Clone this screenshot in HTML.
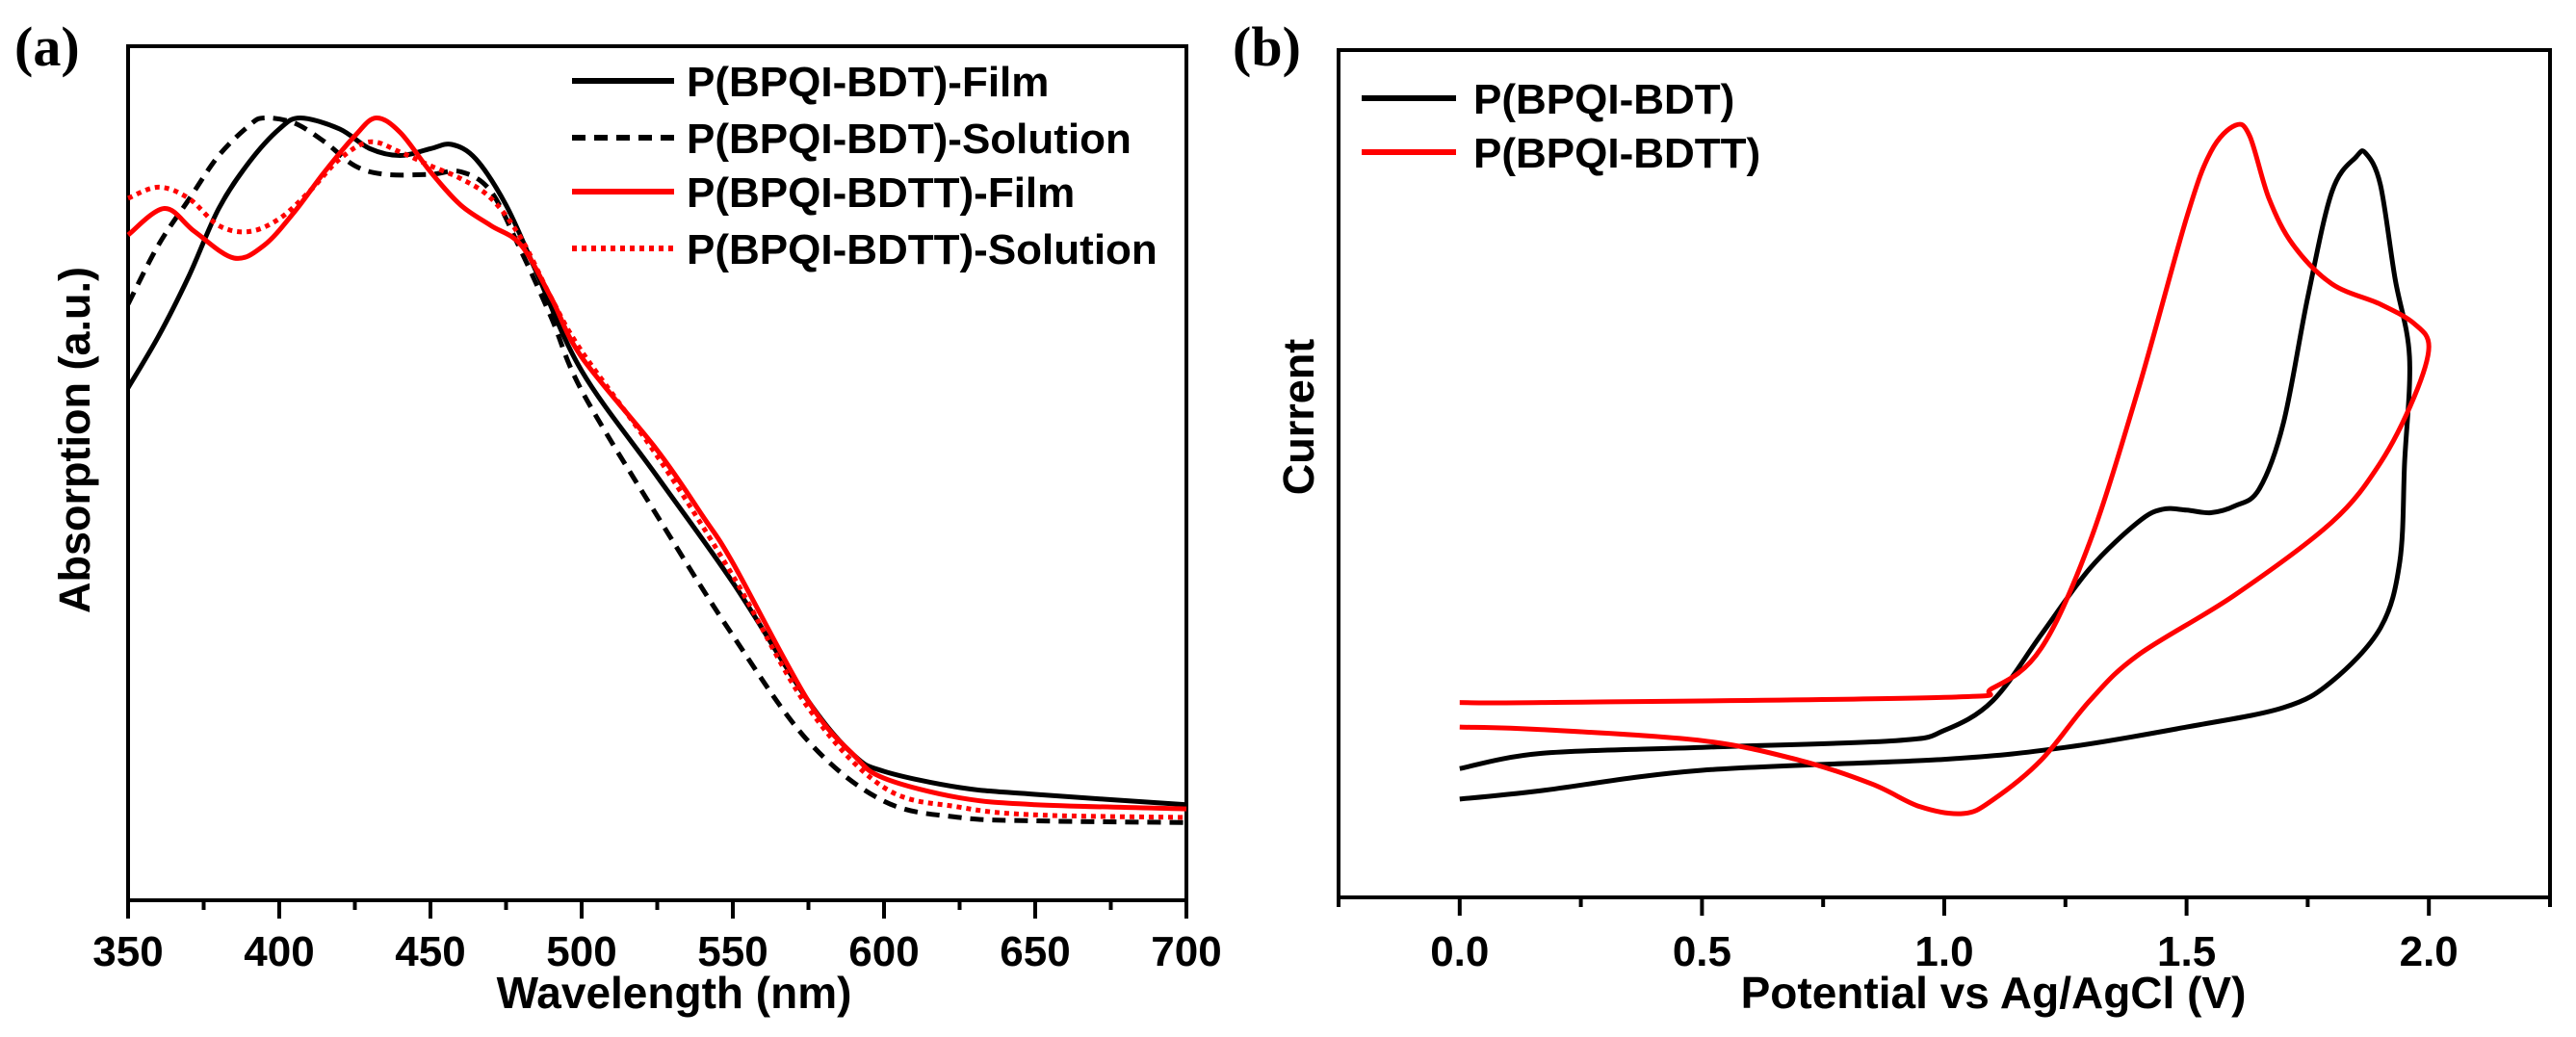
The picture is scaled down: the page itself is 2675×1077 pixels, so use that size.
<!DOCTYPE html>
<html><head><meta charset="utf-8"><style>
html,body{margin:0;padding:0;background:#fff;}
svg{display:block;}
text{font-family:"Liberation Sans",Arial,sans-serif;font-weight:bold;fill:#000;}
</style></head><body>
<svg id="fig" width="2675" height="1077" viewBox="0 0 2675 1077" xmlns="http://www.w3.org/2000/svg">
<rect width="2675" height="1077" fill="#fff"/>
<g id="pa"></g>
<g id="pb"></g>
</svg>
<script>
// ---- Panel (a) data ----
const wlFilm = [350,360,370,380,390,400,407,420,430,440,450,457,465,475,485,500,525,550,575,590,600,625,650,700];
const absBdtFilm = [60,66,73,81,86.4,90.3,91.6,90.3,88,87.2,88,88.5,86.8,81.4,73.6,62,49.6,37.2,23.3,17,15.1,13.2,12.4,11.2];
const wlBdtSol = [350,360,370,380,390,395,405,415,425,435,450,460,470,480,490,500,525,550,575,600,625,650,700];
const absBdtSol = [69.8,76.7,82,87.2,90.7,91.6,91,88.8,86,85,85,85.3,83,76,68.2,59.7,45,31,18.6,11.6,9.7,9.3,9.1];
const wlBdttFilm = [350,362,372,385,395,405,415,425,432,440,450,460,470,480,490,500,525,540,550,575,590,600,625,650,700];
const absBdttFilm = [77.9,81,78.3,75.2,76.7,80.6,85.3,89.5,91.6,89.9,85.3,81.4,79,76.7,70.5,63.6,52.7,45,39.5,23.3,17,14.3,12,11.2,10.7];
const wlBdttSol = [350,360,370,380,390,400,410,420,430,440,450,460,470,480,490,500,525,550,575,600,625,650,700];
const absBdttSol = [82.2,83.5,82.2,79,78.3,79.8,83,86.8,88.8,87.6,86,84.5,82.2,77.5,70.5,64.3,52,38,22.5,13.2,10.9,10,9.7];
const aTicks = [350,400,450,500,550,600,650,700];
const aLegend = ["P(BPQI-BDT)-Film","P(BPQI-BDT)-Solution","P(BPQI-BDTT)-Film","P(BPQI-BDTT)-Solution"];
// ---- Panel (b) data ----
const vBdt = [0,0.169,0.5,0.9,1.0,1.1,1.2,1.3,1.4,1.45,1.5,1.55,1.6,1.65,1.7,1.75,1.8,1.85,1.87,1.9,1.93,1.96,1.95,1.94,1.9,1.8,1.7,1.5,1.25,1.0,0.5,0.169,0];
const iBdt = [15.2,17,17.7,18.5,19.7,23.2,31,38.8,44.3,45.8,45.7,45.4,46.2,48.2,56,70.8,83.3,87.4,87.8,84.1,73.1,63.8,51.3,39.6,31.8,25.5,22.4,20.1,17.7,16.3,15,12.6,11.6];
const vBdtt = [0,0.169,1.0,1.1,1.2,1.3,1.4,1.5,1.55,1.6,1.63,1.67,1.72,1.8,1.9,1.97,2.0,1.97,1.9,1.8,1.6,1.4,1.3,1.2,1.1,1.04,0.95,0.85,0.7,0.5,0.169,0];
const iBdtt = [23,23,23.6,24.7,29.4,41.9,59.9,80.2,88,91.1,89.9,82.5,77,72.4,70,67.7,65,59.1,51.3,44.3,35.7,28.6,23.2,16.2,11.5,9.9,10.7,13.4,16.2,18.5,19.8,20.1];
const bTicks = [0.0,0.5,1.0,1.5,2.0];
const bLegend = ["P(BPQI-BDT)","P(BPQI-BDTT)"];

const NS="http://www.w3.org/2000/svg";
function mk(parent,tag,attrs,txt){const e=document.createElementNS(NS,tag);for(const k in attrs)e.setAttribute(k,attrs[k]);if(txt!==undefined)e.textContent=txt;parent.appendChild(e);return e;}
function pathD(xs,ys,fx,fy){
 const p=xs.map((x,i)=>[fx(x),fy(ys[i])]);
 let d='M'+p[0][0].toFixed(1)+' '+p[0][1].toFixed(1);
 for(let i=0;i<p.length-1;i++){
  const p0=p[i-1]||p[i],p1=p[i],p2=p[i+1],p3=p[i+2]||p[i+1];
  const c1=[p1[0]+(p2[0]-p0[0])/6,p1[1]+(p2[1]-p0[1])/6];
  const c2=[p2[0]-(p3[0]-p1[0])/6,p2[1]-(p3[1]-p1[1])/6];
  d+=' C'+c1[0].toFixed(1)+' '+c1[1].toFixed(1)+' '+c2[0].toFixed(1)+' '+c2[1].toFixed(1)+' '+p2[0].toFixed(1)+' '+p2[1].toFixed(1);
 }
 return d;
}

// Panel a axes
const A={l:133,r:1232,t:48,b:935};
const ax=v=>A.l+(v-350)/350*(A.r-A.l);
const ay=v=>A.b-v/100*(A.b-A.t);
const pa=document.getElementById('pa');
let e;
e=mk(pa,'text',{x:15,y:68,style:'font-family:"Liberation Serif",serif;font-size:58px;font-weight:bold'},'(a)');


e=mk(pa,'rect',{x:A.l,y:A.t,width:A.r-A.l,height:A.b-A.t,fill:'none',stroke:'#000','stroke-width':4});


for(let w=350;w<=700;w+=25){const maj=(w%50===0);
 e=mk(pa,'line',{x1:ax(w),x2:ax(w),y1:A.b,y2:A.b+(maj?19:10),stroke:'#000','stroke-width':4});
 
 }
aTicks.forEach(t=>{e=mk(pa,'text',{x:ax(t),y:1003,'text-anchor':'middle','font-size':44},String(t));
 
 });
e=mk(pa,'text',{x:700,y:1047,'text-anchor':'middle','font-size':46},'Wavelength (nm)');


e=mk(pa,'text',{x:0,y:0,'text-anchor':'middle','font-size':45,transform:'translate(93,457) rotate(-90)'},'Absorption (a.u.)');


const aSeries=[[wlFilm,absBdtFilm,'#000',''],[wlBdtSol,absBdtSol,'#000','14 9'],[wlBdttFilm,absBdttFilm,'#f00',''],[wlBdttSol,absBdttSol,'#f00','5 5']];
const aNames=['line-bdt-film','line-bdt-solution','line-bdtt-film','line-bdtt-solution'];
aSeries.forEach((s,i)=>{e=mk(pa,'path',{d:pathD(s[0],s[1],ax,ay),fill:'none',stroke:s[2],'stroke-width':5,'stroke-dasharray':s[3],'stroke-linejoin':'round'});
 
 });
const legY=[84,143,199,258];
aLegend.forEach((t,i)=>{const s=aSeries[i];
 e=mk(pa,'line',{x1:594,x2:700,y1:legY[i],y2:legY[i],stroke:s[2],'stroke-width':6,'stroke-dasharray':s[3]});
 
 
 e=mk(pa,'text',{x:713,y:legY[i]+16,'font-size':44},t);
 
 });

// Panel b
const B={l:1390,r:2648,t:52,b:932};
const bx=v=>B.l+(v+0.25)/2.5*(B.r-B.l);
const by=v=>B.b-v/100*(B.b-B.t);
const pb=document.getElementById('pb');
e=mk(pb,'text',{x:1280,y:68,style:'font-family:"Liberation Serif",serif;font-size:58px;font-weight:bold'},'(b)');


e=mk(pb,'rect',{x:B.l,y:B.t,width:B.r-B.l,height:B.b-B.t,fill:'none',stroke:'#000','stroke-width':4});


for(let k=-1;k<=9;k++){const v=k*0.25;const maj=(k%2===0);
 e=mk(pb,'line',{x1:bx(v),x2:bx(v),y1:B.b,y2:B.b+(maj?19:10),stroke:'#000','stroke-width':4});
 
 }
bTicks.forEach(t=>{e=mk(pb,'text',{x:bx(t),y:1003,'text-anchor':'middle','font-size':44},t.toFixed(1));
 
 });
e=mk(pb,'text',{x:2070,y:1047,'text-anchor':'middle','font-size':46},'Potential vs Ag/AgCl (V)');


e=mk(pb,'text',{x:0,y:0,'text-anchor':'middle','font-size':45,transform:'translate(1364,433) rotate(-90)'},'Current');


const bSeries=[[vBdt,iBdt,'#000'],[vBdtt,iBdtt,'#f00']];
const bNames=['cv-bdt','cv-bdtt'];
bSeries.forEach((s,i)=>{e=mk(pb,'path',{d:pathD(s[0],s[1],bx,by),fill:'none',stroke:s[2],'stroke-width':5,'stroke-linejoin':'round'});
 
 });
const legYb=[102,158];
bLegend.forEach((t,i)=>{
 e=mk(pb,'line',{x1:1414,x2:1512,y1:legYb[i],y2:legYb[i],stroke:bSeries[i][2],'stroke-width':6});
 
 
 e=mk(pb,'text',{x:1530,y:legYb[i]+16,'font-size':44},t);
 
 });
</script>
</body></html>
